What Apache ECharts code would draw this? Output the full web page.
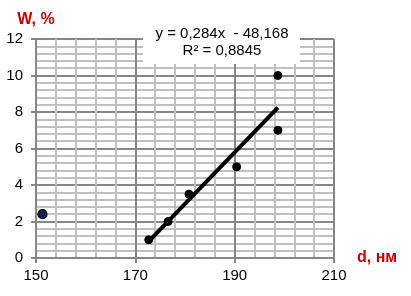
<!DOCTYPE html>
<html><head><meta charset="utf-8">
<script src="https://cdn.jsdelivr.net/npm/echarts@6/dist/echarts.min.js"></script>
<style>html,body{margin:0;padding:0;background:#fff}#c{width:411px;height:296px}</style>
</head><body><div id="c"></div>
<script>
// Data
const fitX = [172.7, 176.6, 180.8, 190.4, 198.7, 198.7];
const fitY = [1.0, 2.0, 3.5, 5.0, 7.0, 10.0];
const outlierX = [151.3];
const outlierY = [2.4];
const xTicks = [150, 170, 190, 210];
const yTicks = [0, 2, 4, 6, 8, 10, 12];
const eqLine1 = 'y = 0,284x  - 48,168';
const eqLine2 = 'R² = 0,8845';
const xName = 'd, нм';
const yName = 'W, %';

// least-squares trend from data
const n = fitX.length;
const mx = fitX.reduce((a,b)=>a+b,0)/n, my = fitY.reduce((a,b)=>a+b,0)/n;
let sxy=0, sxx=0;
for (let i=0;i<n;i++){ sxy+=(fitX[i]-mx)*(fitY[i]-my); sxx+=(fitX[i]-mx)**2; }
const slope = sxy/sxx, icpt = my - slope*mx;
const x0 = Math.min(...fitX), x1 = Math.max(...fitX);
const trend = [[x0, slope*x0+icpt],[x1, slope*x1+icpt]];

const FONT = '"Liberation Sans", Arial, sans-serif';
const chart = echarts.init(document.getElementById('c'), null, {renderer:'canvas'});
const axisCommon = {
  axisLine:{show:true, lineStyle:{color:'#868686', width:2}},
  axisTick:{show:true, length:5, lineStyle:{color:'#868686', width:2}},
  axisLabel:{color:'#000', fontSize:15, fontFamily:FONT},
  splitLine:{show:true, lineStyle:{color:'#868686', width:2}},
  minorTick:{show:false, splitNumber:5},
  minorSplitLine:{show:true, lineStyle:{color:'#c0c0c0', width:2}}
};
chart.setOption({
  animation:false,
  backgroundColor:'#fff',
  grid:{left:36, right:77, top:39, bottom:38, containLabel:false},
  xAxis: Object.assign({}, axisCommon, {
    type:'value', min:xTicks[0], max:xTicks[xTicks.length-1], interval:20,
    axisLabel:Object.assign({}, axisCommon.axisLabel, {margin:10}),
    name:xName, nameLocation:'end', nameGap:23,
    nameTextStyle:{color:'#c00000', fontWeight:'bold', fontSize:16, fontFamily:FONT, verticalAlign:'middle', padding:[0,0,6,0]}
  }),
  yAxis: Object.assign({}, axisCommon, {
    type:'value', min:yTicks[0], max:yTicks[yTicks.length-1], interval:2,
    axisLabel:Object.assign({}, axisCommon.axisLabel, {margin:13}),
    name:yName, nameLocation:'end', nameGap:11,
    nameTextStyle:{color:'#c00000', fontWeight:'bold', fontSize:16, fontFamily:FONT, align:'center'}
  }),
  graphic:[
    {type:'rect', z:50, shape:{x:143, y:20, width:157, height:44}, style:{fill:'#fff'}},
    {type:'text', z:51, x:222, y:34, style:{text:eqLine1, fill:'#000', font:'15px '+FONT, align:'center', verticalAlign:'middle'}},
    {type:'text', z:51, x:222, y:51, style:{text:eqLine2, fill:'#000', font:'15px '+FONT, align:'center', verticalAlign:'middle'}}
  ],
  series:[
    {type:'line', data:trend, symbol:'none', lineStyle:{color:'#000', width:4}, z:3, silent:true},
    {type:'scatter', data:fitX.map((x,i)=>[x,fitY[i]]), symbol:'circle', symbolSize:8,
      itemStyle:{color:'#000', borderColor:'#000', borderWidth:1, opacity:1}, z:4},
    {type:'scatter', data:outlierX.map((x,i)=>[x,outlierY[i]]), symbol:'circle', symbolSize:9,
      itemStyle:{color:'#0f2455', borderColor:'#000', borderWidth:1.2, opacity:1}, z:4}
  ]
});
</script></body></html>
